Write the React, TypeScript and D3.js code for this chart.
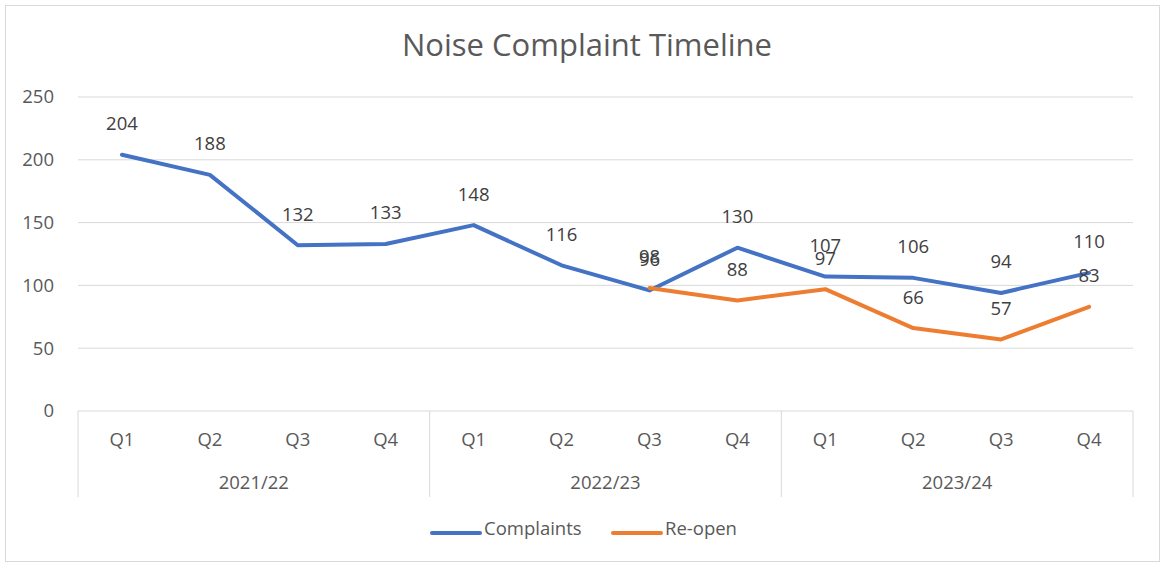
import React from 'react';
import * as d3 from 'd3';

const quarters = ['Q1', 'Q2', 'Q3', 'Q4', 'Q1', 'Q2', 'Q3', 'Q4', 'Q1', 'Q2', 'Q3', 'Q4'];
const years = ['2021/22', '2022/23', '2023/24'];
const complaints = [204, 188, 132, 133, 148, 116, 96, 130, 107, 106, 94, 110];
const reopen: (number | null)[] = [null, null, null, null, null, null, 98, 88, 97, 66, 57, 83];
const yTicks = [0, 50, 100, 150, 200, 250];

const width = 1165;
const height = 567;
const margin = { left: 78, right: 32, top: 97, bottom: 156 };
const font = '"Open Sans", "Liberation Sans", sans-serif';
const blue = '#4472C4';
const orange = '#ED7D31';
const fs = 18.5;

export default function App() {
    const drawW = width - margin.left - margin.right;
    const drawH = height - margin.top - margin.bottom;

    const x = d3.scaleBand<number>()
        .domain(d3.range(quarters.length))
        .range([margin.left, margin.left + drawW]);
    const y = d3.scaleLinear().domain([0, 250]).range([margin.top + drawH, margin.top]);
    const cx = (i: number) => (x(i) as number) + x.bandwidth() / 2;

    const line = d3.line<number | null>()
        .defined((d) => d !== null)
        .x((_, i) => cx(i))
        .y((d) => y(d as number));

    const base = y(0);
    const groupSize = 4;

    const series = [
        { name: 'Complaints', values: complaints as (number | null)[], color: blue },
        { name: 'Re-open', values: reopen, color: orange },
    ];

    return (
        <svg width={width} height={height} style={{ position: 'absolute', left: 0, top: 0 }}
            fontFamily={font}>
            <rect x={5.5} y={5.5} width={width - 11} height={height - 11} fill="#fff" stroke="#d9d9d9" />
            <text x={587} y={56} textAnchor="middle" fontSize={31} fill="#595959">Noise Complaint Timeline</text>

            {/* gridlines + y labels */}
            {yTicks.map((t) => (
                <g key={t}>
                    <line x1={margin.left} x2={margin.left + drawW} y1={y(t)} y2={y(t)} stroke="#d9d9d9" />
                    <text x={54} y={y(t)} dy="0.35em" textAnchor="end" fontSize={fs} fill="#595959">{t}</text>
                </g>
            ))}

            {/* category axis */}
            {d3.range(years.length + 1).map((g) => {
                const xx = g === years.length ? margin.left + drawW : (x(g * groupSize) as number);
                return <line key={g} x1={xx} x2={xx} y1={base} y2={base + 86} stroke="#d9d9d9" />;
            })}
            {quarters.map((q, i) => (
                <text key={i} x={cx(i)} y={base + 29} dy="0.35em" textAnchor="middle" fontSize={fs} fill="#595959">{q}</text>
            ))}
            {years.map((yr, g) => {
                const x0 = x(g * groupSize) as number;
                const x1 = (x(g * groupSize + groupSize - 1) as number) + x.bandwidth();
                return <text key={yr} x={(x0 + x1) / 2} y={base + 72} dy="0.35em" textAnchor="middle" fontSize={fs} fill="#595959">{yr}</text>;
            })}

            {/* lines */}
            {series.map((s) => (
                <path key={s.name} d={line(s.values) || ''} fill="none" stroke={s.color} strokeWidth={4} strokeLinejoin="round" strokeLinecap="round" />
            ))}

            {/* data labels */}
            {series.map((s) => s.values.map((v, i) => v === null ? null : (
                <text key={s.name + i} x={cx(i)} y={y(v) - 31} dy="0.35em" textAnchor="middle" fontSize={fs} fill="#404040">{v}</text>
            )))}

            {/* legend */}
            {series.map((s, i) => {
                const lx = i === 0 ? 432 : 613;
                return (
                    <g key={s.name}>
                        <line x1={lx} x2={lx + 48} y1={533} y2={533} stroke={s.color} strokeWidth={4} strokeLinecap="round" />
                        <text x={lx + 52} y={529} dy="0.35em" fontSize={fs} fill="#595959">{s.name}</text>
                    </g>
                );
            })}
        </svg>
    );
}
